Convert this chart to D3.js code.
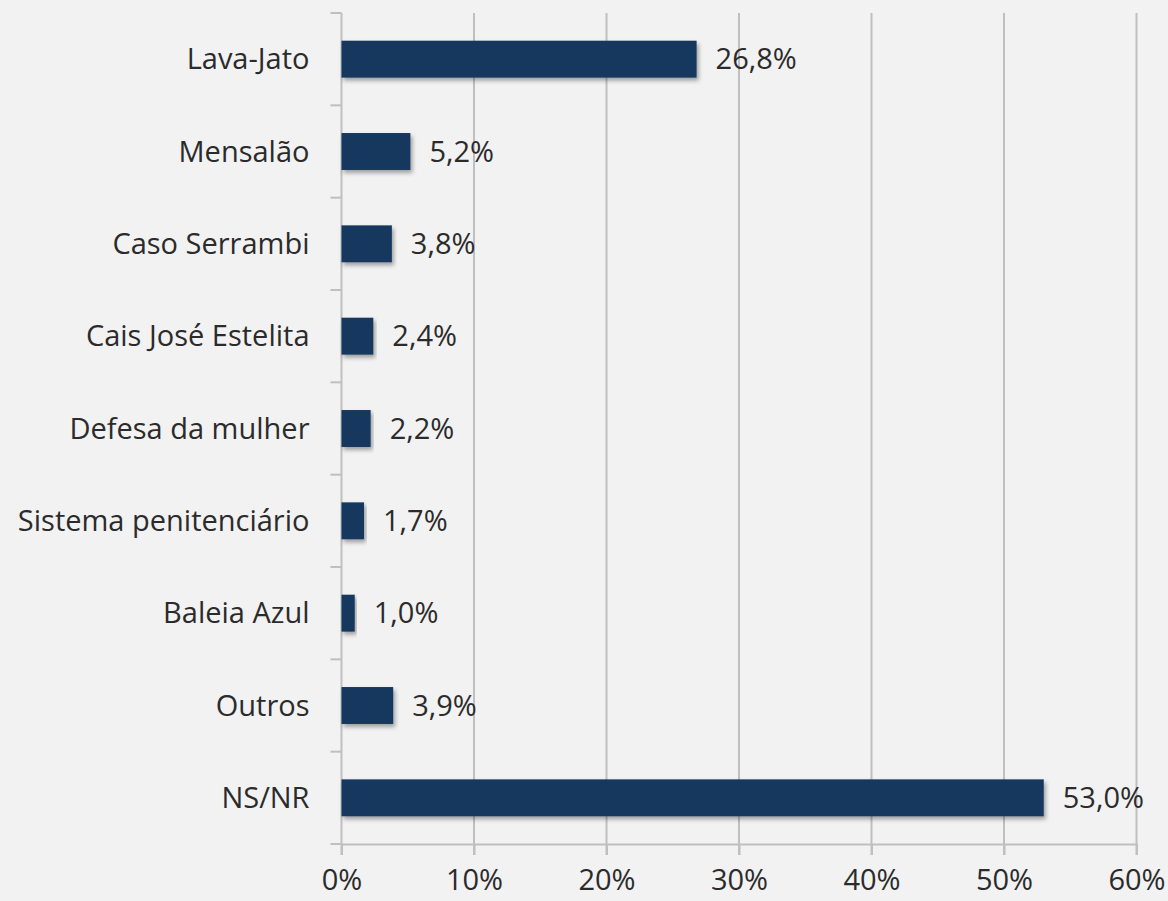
<!DOCTYPE html>
<html><head><meta charset="utf-8">
<script src="https://cdn.jsdelivr.net/npm/d3@7"></script>
<style>
html,body{margin:0;padding:0;background:#f2f2f2;}
svg{display:block;}
text{font-family:"Open Sans","Noto Sans",sans-serif;fill:#2b2b2b;}
</style></head>
<body>
<svg id="c" width="1168" height="901"></svg>
<script>
const categories = ["Lava-Jato","Mensalão","Caso Serrambi","Cais José Estelita","Defesa da mulher","Sistema penitenciário","Baleia Azul","Outros","NS/NR"];
const values = [26.8,5.2,3.8,2.4,2.2,1.7,1.0,3.9,53.0];
const valueLabels = ["26,8%","5,2%","3,8%","2,4%","2,2%","1,7%","1,0%","3,9%","53,0%"];
const xTicks = [0,10,20,30,40,50,60];

const FS = 29;
const svg = d3.select("#c");
const W=1168,H=901;
svg.append("rect").attr("width",W).attr("height",H).attr("fill","#f2f2f2");

const x = d3.scaleLinear().domain([0,60]).range([341.5,1136.5]);
const y = d3.scaleBand().domain(categories).range([13,844]).paddingInner(0.6).paddingOuter(0.3);
const yb = d3.scaleBand().domain(categories).range([13,844]).padding(0);

const defs = svg.append("defs");
const f = defs.append("filter").attr("id","sh").attr("x","-5%").attr("y","-30%").attr("width","115%").attr("height","190%");
f.append("feDropShadow").attr("dx",2).attr("dy",3).attr("stdDeviation",2).attr("flood-color","#000").attr("flood-opacity",0.35);

// gridlines
svg.append("g").selectAll("line").data(xTicks.filter(d=>d>0)).join("line")
  .attr("x1",d=>x(d)).attr("x2",d=>x(d)).attr("y1",13).attr("y2",855)
  .attr("stroke","#bfbfbf").attr("stroke-width",2);

// x axis
const xa = svg.append("g").attr("transform","translate(0,844)")
  .call(d3.axisBottom(x).tickValues(xTicks).tickFormat(d=>d+"%").tickSize(11).tickPadding(14));
xa.select(".domain").attr("stroke","#bfbfbf").attr("stroke-width",2);
xa.selectAll(".tick line").attr("stroke","#bfbfbf").attr("stroke-width",2);
xa.selectAll(".tick text").attr("font-size",FS).attr("fill","#2b2b2b").attr("font-family","'Open Sans','Noto Sans',sans-serif");

// y axis with ticks at band boundaries
const ya = svg.append("g").attr("transform","translate(341.5,0)");
ya.append("line").attr("x1",0).attr("x2",0).attr("y1",13).attr("y2",855).attr("stroke","#bfbfbf").attr("stroke-width",2);
const bounds = categories.map(c=>yb(c)).concat([844]);
ya.selectAll("line.t").data(bounds).join("line").attr("class","t")
  .attr("x1",-11).attr("x2",0).attr("y1",d=>d).attr("y2",d=>d)
  .attr("stroke","#bfbfbf").attr("stroke-width",2);
ya.selectAll("text").data(categories).join("text")
  .attr("x",-32).attr("y",d=>y(d)+y.bandwidth()/2).attr("dy","0.35em")
  .attr("text-anchor","end").attr("font-size",FS).text(d=>d);

// bars
svg.append("g").selectAll("rect").data(values).join("rect")
  .attr("x",x(0)).attr("y",(d,i)=>y(categories[i]))
  .attr("width",d=>x(d)-x(0)).attr("height",y.bandwidth())
  .attr("fill","#17375e").attr("filter","url(#sh)");

// value labels
svg.append("g").selectAll("text").data(values).join("text")
  .attr("x",d=>x(d)+19).attr("y",(d,i)=>y(categories[i])+y.bandwidth()/2).attr("dy","0.35em")
  .attr("font-size",FS).text((d,i)=>valueLabels[i]);
</script>
</body></html>
